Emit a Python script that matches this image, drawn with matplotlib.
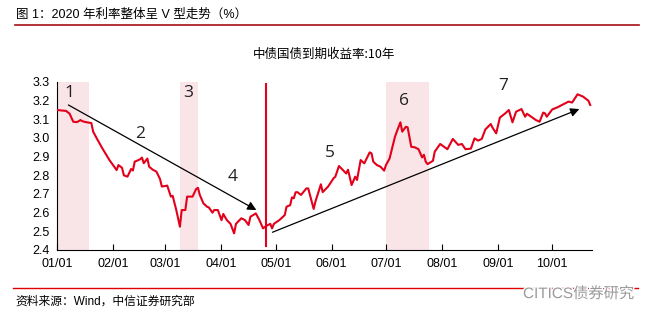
import pandas as pd
import matplotlib
matplotlib.use("Agg")
import matplotlib.pyplot as plt
import matplotlib.patheffects as pe

plt.rcParams['font.family'] = ['Liberation Sans', 'Noto Sans CJK SC', 'DejaVu Sans']

# 10Y CGB yield, days counted from 2020-01-01
days = [0, 5, 7, 9, 11, 13, 14, 16, 19, 20, 22, 25, 29, 33, 34, 36, 37, 39, 41, 42,
        43, 46, 47, 48, 50, 51, 53, 55, 57, 58, 61, 63, 64, 66, 68, 69, 71, 72, 75, 77,
        78, 79, 81, 83, 84, 86, 87, 89, 91, 92, 94, 96, 98, 99, 102, 104, 106, 107, 110, 112,
        114, 116, 118, 119, 120, 123, 126, 127, 129, 130, 131, 132, 133, 135, 138, 139, 142, 143, 146, 147,
        150, 153, 154, 156, 158, 160, 161, 163, 165, 166, 168, 170, 173, 174, 175, 177, 179, 181, 182, 184,
        187, 188, 190, 191, 193, 194, 196, 198, 200, 202, 203, 204, 205, 208, 209, 212, 214, 216, 219, 222,
        224, 226, 229, 231, 233, 235, 237, 240, 241, 243, 245, 248, 250, 252, 254, 257, 259, 260, 265, 267,
        269, 270, 271, 274, 277, 280, 283, 285, 288, 291, 294, 295]
yields = [3.150, 3.145, 3.130, 3.087, 3.085, 3.096, 3.090, 3.085, 3.080, 3.034, 2.998, 2.946, 2.882, 2.828, 2.855, 2.840, 2.800, 2.793, 2.834, 2.826,
          2.873, 2.886, 2.895, 2.865, 2.890, 2.846, 2.830, 2.820, 2.780, 2.740, 2.745, 2.686, 2.690, 2.614, 2.525, 2.614, 2.614, 2.686, 2.686, 2.727,
          2.733, 2.695, 2.650, 2.632, 2.628, 2.600, 2.614, 2.614, 2.560, 2.593, 2.560, 2.540, 2.489, 2.540, 2.570, 2.560, 2.534, 2.578, 2.596, 2.560,
          2.516, 2.530, 2.540, 2.516, 2.540, 2.560, 2.587, 2.632, 2.640, 2.682, 2.677, 2.709, 2.710, 2.695, 2.730, 2.730, 2.620, 2.660, 2.752, 2.710,
          2.740, 2.784, 2.793, 2.850, 2.830, 2.810, 2.830, 2.748, 2.793, 2.775, 2.882, 2.864, 2.923, 2.918, 2.873, 2.855, 2.846, 2.825, 2.855, 2.890,
          3.007, 3.034, 3.084, 3.034, 3.060, 3.057, 2.953, 2.950, 2.940, 2.896, 2.910, 2.873, 2.860, 2.878, 2.927, 2.968, 2.954, 2.940, 2.995, 2.963,
          2.968, 2.940, 2.943, 2.998, 2.986, 2.995, 3.046, 3.075, 3.055, 3.025, 3.109, 3.132, 3.150, 3.084, 3.141, 3.155, 3.114, 3.130, 3.096, 3.087,
          3.136, 3.132, 3.114, 3.153, 3.165, 3.180, 3.195, 3.190, 3.234, 3.222, 3.200, 3.177]

# shaded phases (start day, end day)
spans = [(0, 17.5), (68, 78), (182, 206)]

# phase numbers: (label, day, value)
phase_labels = [("1", 7, 3.24), ("2", 46, 3.02), ("3", 72.5, 3.24), ("4", 97, 2.79),
                ("5", 151, 2.92), ("6", 192, 3.20), ("7", 247, 3.28)]

# trend arrows: (start day, start value, end day, end value)
arrows = [(6.3, 3.177, 110.3, 2.614), (119.2, 2.495, 289, 3.155)]

turn_day = 115.5
month_ticks = ["01/01", "02/01", "03/01", "04/01", "05/01", "06/01", "07/01", "08/01", "09/01", "10/01"]

red = "#E2001A"
base = pd.Timestamp("2020-01-01")


def to_date(d):
    return base + pd.Timedelta(days=d)


fig = plt.figure(figsize=(6.53, 3.22), dpi=100)
ax = fig.add_axes([57 / 653, 72 / 322, 535 / 653, 168 / 322])

for s, e in spans:
    ax.axvspan(to_date(s), to_date(e), color="#F9E4E8", lw=0, zorder=0)

x = [to_date(d) for d in days]
ax.plot(x, yields, color=red, lw=1.5, zorder=3)

# turning point marker
ax.plot([to_date(turn_day)] * 2, [2.42, 3.29], color=red, lw=1.5, zorder=3)

for x0, y0, x1, y1 in arrows:
    ax.annotate("", xy=(to_date(x1), y1), xytext=(to_date(x0), y0),
                arrowprops=dict(arrowstyle="-|>", color="black", lw=0.9,
                                mutation_scale=13, shrinkA=0, shrinkB=0),
                zorder=4)

for lab, d, v in phase_labels:
    ax.text(to_date(d), v, lab, fontsize=12.5, ha="center", va="center",
            family=["Open Sans", "DejaVu Sans"], color="#222222")

ax.set_xlim(to_date(0), to_date(296))
ax.set_ylim(2.4, 3.3)
ax.set_yticks([2.4, 2.5, 2.6, 2.7, 2.8, 2.9, 3.0, 3.1, 3.2, 3.3])
ax.yaxis.set_major_formatter(plt.FormatStrFormatter("%.1f"))
month_pos = [pd.Timestamp("2020-%s" % m.replace("/", "-")) for m in month_ticks]
ax.set_xticks(month_pos)
ax.set_xticklabels(month_ticks)
ax.tick_params(axis="x", direction="in", length=4, width=0.8, labelsize=9, pad=6)
ax.tick_params(axis="y", length=0, labelsize=9, pad=5)
for side in ["top", "right"]:
    ax.spines[side].set_visible(False)
for side in ["left", "bottom"]:
    ax.spines[side].set_linewidth(0.8)

ax.set_title("中债国债到期收益率:10年", fontsize=9, pad=17,
             family=["Noto Sans CJK SC", "DejaVu Sans"])

# header and footer
fig.text(16 / 653, 1 - 15 / 322, "图 1：2020 年利率整体呈 V 型走势（%）", fontsize=9,
         va="center", ha="left")
fig.add_artist(plt.Line2D([15 / 653, 639 / 653], [1 - 25 / 322] * 2, color="#A50F15", lw=1.2))
fig.add_artist(plt.Line2D([13 / 653, 638 / 653], [1 - 288 / 322] * 2, color="#E00000", lw=1.0))
fig.text(15 / 653, 1 - 302 / 322, "资料来源：Wind，中信证券研究部", fontsize=8.5,
         va="center", ha="left")
fig.text(634 / 653, 1 - 294 / 322, "CITICS债券研究", fontsize=11, va="center", ha="right",
         color="#9A9A9A", path_effects=[pe.withStroke(linewidth=2, foreground="white")])

fig.savefig("out.png", dpi=100)
